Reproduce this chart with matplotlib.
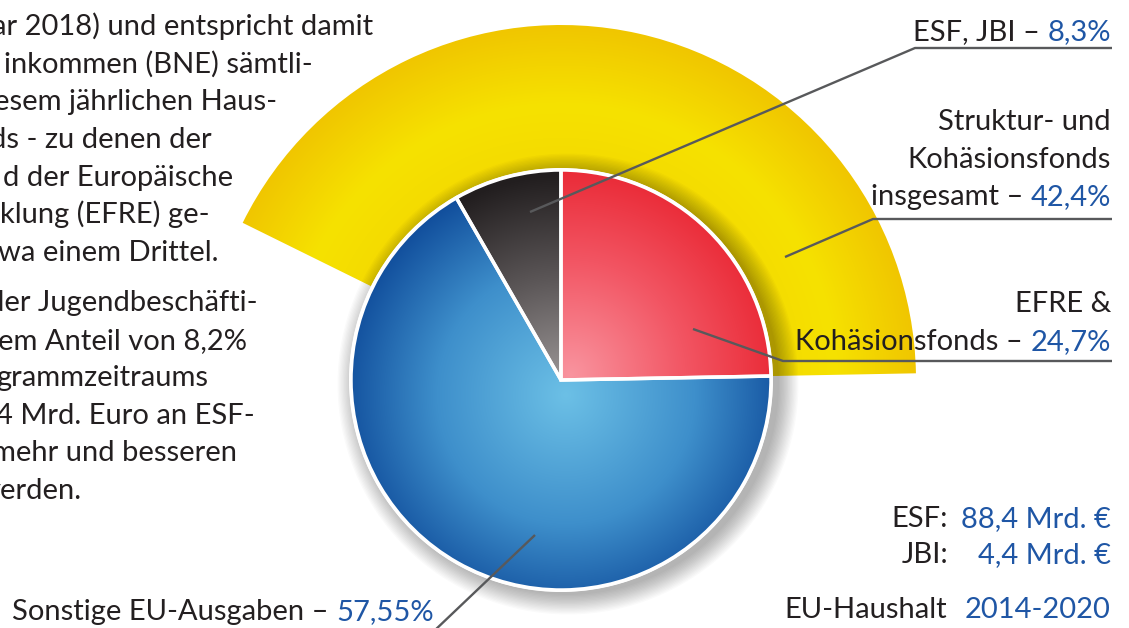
import numpy as np
import matplotlib.pyplot as plt
from matplotlib.patches import Wedge, Circle

plt.rcParams['font.family'] = ['Lato', 'DejaVu Sans']

# Anteile (Prozent)
efre_kohaesion = 24.7
esf_jbi = 8.3
sonstige = 57.55
struktur_gesamt = 42.4
# blau füllt im Original den Rest des Kreises
pie_sizes = [efre_kohaesion, 100 - efre_kohaesion - esf_jbi, esf_jbi]

# Textblock links (angeschnitten)
left_lines = ["ar 2018) und entspricht damit", "inkommen (BNE) sämtli-",
              "esem jährlichen Haus-", "ds - zu denen der",
              "d der Europäische", "klung (EFRE) ge-", "wa einem Drittel.",
              "der Jugendbeschäfti-", "em Anteil von 8,2%", "grammzeitraums",
              "4 Mrd. Euro an ESF-", "mehr und besseren", "verden."]
left_right_x = [373, 313, 277, 212, 233, 210, 218, 257, 247, 208, 255, 237, 82]
left_base_y = [35, 73, 110, 148, 186, 223, 261, 311, 349, 386, 424, 461, 499]

DARK = '#231F20'
BLUE = '#1F56A5'
LINE = '#58595B'
FS = 21

W, H = 1129, 628
fig = plt.figure(figsize=(W / 100, H / 100), dpi=100)
ax = fig.add_axes([0, 0, 1, 1])


def Y(y):
    return H - y


cx, cy, R, R2 = 561, Y(380), 210, 355


def hex2rgb(h):
    h = h.lstrip('#')
    return np.array([int(h[i:i + 2], 16) / 255 for i in (0, 2, 4)])


def gradient(patch, stops, tfunc, zorder):
    x0, x1, y0, y1 = cx - R2 - 5, cx + R2 + 5, cy - R2 - 5, cy + R2 + 5
    xs = np.linspace(x0, x1, 500)
    ys = np.linspace(y0, y1, 500)
    X, YY = np.meshgrid(xs, ys)
    t = np.clip(tfunc(X, YY), 0, 1)
    pos = np.array([s[0] for s in stops])
    cols = np.array([hex2rgb(s[1]) for s in stops])
    img = np.dstack([np.interp(t, pos, cols[:, k]) for k in range(3)])
    im = ax.imshow(img, extent=(x0, x1, y0, y1), origin='lower',
                   zorder=zorder, interpolation='bilinear')
    im.set_clip_path(patch)


wedges, _ = ax.pie(pie_sizes, startangle=90, counterclock=False,
                   center=(cx, cy), radius=R, colors=['none'] * 3,
                   wedgeprops=dict(edgecolor='white', linewidth=2.5, zorder=5))
red, blue, black = wedges

# gelber Fächer hinter dem Kreis
t1 = red.theta1
yellow = Wedge((cx, cy), R2, t1, t1 + struktur_gesamt * 3.6,
               facecolor='none', edgecolor='none', zorder=1)
ax.add_patch(yellow)
gradient(yellow, [(0, '#F4DA00'), (0.45, '#F6E200'), (1, '#F0C600')],
         lambda X, YY: (np.hypot(X - cx, YY - cy) - R) / (R2 - R), 1)

# Schatten
for i in range(16):
    ax.add_patch(Circle((cx + 7, cy - 4), R + 1 + i * 1.3, fc='black',
                        ec='none', alpha=0.02, zorder=2))
ax.add_patch(Circle((cx, cy), R + 2, fc='white', ec='none', zorder=2.5))

gradient(blue, [(0, '#6CC0E6'), (0.55, '#3E8FCB'), (1, '#0C4797')],
         lambda X, YY: np.hypot(X - (cx + 5), YY - (cy - 15)) / 235, 3)
gradient(red, [(0, '#F9949F'), (0.5, '#F25563'), (1, '#E81F2B')],
         lambda X, YY: np.hypot(X - (cx + 10), YY - (cy + 5)) / 230, 3)
gradient(black, [(0, '#9A9595'), (0.5, '#5B5657'), (1, '#221E1F')],
         lambda X, YY: np.hypot(X - cx, YY - cy) / 205, 3)

# Hinweislinien
leaders = [[(530, 212), (915, 48), (1112, 48)],
           [(785, 257), (873, 219), (1112, 219)],
           [(693, 329), (783, 361), (1112, 361)],
           [(535, 535), (433, 632)]]
for pts in leaders:
    ax.plot([p[0] for p in pts], [Y(p[1]) for p in pts], color=LINE,
            lw=1.7, zorder=6, solid_capstyle='butt')

renderer = fig.canvas.get_renderer()


def rtext(x, y, parts):
    # parts von rechts nach links setzen
    for s, c in reversed(parts):
        t = ax.text(x, Y(y), s, color=c, fontsize=FS, ha='right',
                    va='baseline', zorder=7)
        x -= t.get_window_extent(renderer=renderer).width


def ltext(x, y, parts):
    for s, c in parts:
        t = ax.text(x, Y(y), s, color=c, fontsize=FS, ha='left',
                    va='baseline', zorder=7)
        x += t.get_window_extent(renderer=renderer).width


for s, xr, yb in zip(left_lines, left_right_x, left_base_y):
    ax.text(xr, Y(yb), s, color=DARK, fontsize=FS, ha='right', va='baseline')

rtext(1111, 40, [("ESF, JBI – ", DARK), (f"{esf_jbi:.1f}%".replace('.', ','), BLUE)])
rtext(1111, 130, [("Struktur- und", DARK)])
rtext(1111, 168, [("Kohäsionsfonds", DARK)])
rtext(1111, 205, [("insgesamt – ", DARK), (f"{struktur_gesamt:.1f}%".replace('.', ','), BLUE)])
rtext(1111, 312, [("EFRE &", DARK)])
rtext(1111, 350, [("Kohäsionsfonds – ", DARK), (f"{efre_kohaesion:.1f}%".replace('.', ','), BLUE)])

rtext(948, 527, [("ESF:", DARK)])
rtext(1111, 527, [("88,4 Mrd. €", BLUE)])
rtext(948, 563, [("JBI:", DARK)])
rtext(1111, 563, [("4,4 Mrd. €", BLUE)])
rtext(947, 618, [("EU-Haushalt", DARK)])
rtext(1111, 618, [("2014-2020", BLUE)])

ltext(12, 620, [("Sonstige EU-Ausgaben – ", DARK), (f"{sonstige:.2f}%".replace('.', ','), BLUE)])

ax.set_xlim(0, W)
ax.set_ylim(0, H)
ax.axis('off')
fig.savefig('out.png', dpi=100)
